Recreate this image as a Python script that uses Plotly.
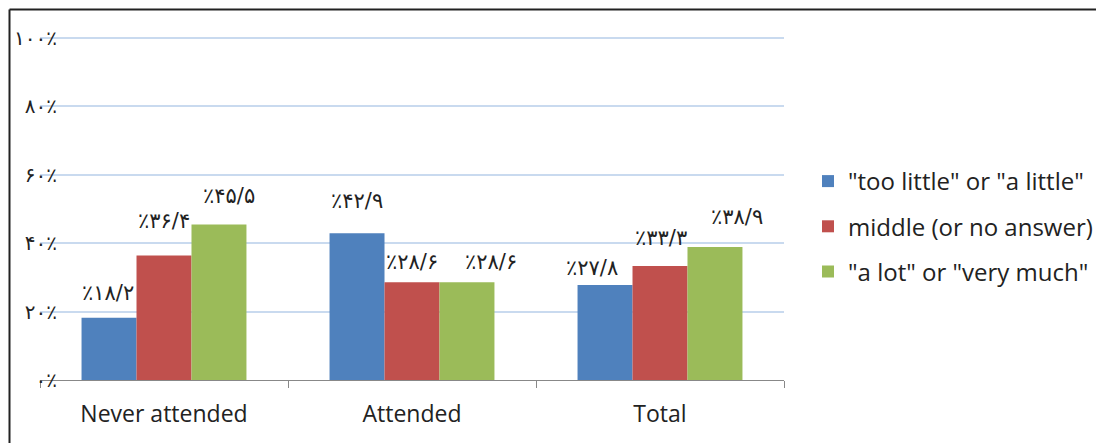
import plotly.graph_objects as go

categories = ["Never attended", "Attended", "Total"]
series_names = ['"too little" or "a little"', 'middle (or no answer)', '"a lot" or "very much"']
too_little = [18.2, 42.9, 27.8]
middle = [36.4, 28.6, 33.3]
a_lot = [45.5, 28.6, 38.9]
too_little_labels = ["٪۱۸/۲", "٪۴۲/۹", "٪۲۷/۸"]
middle_labels = ["٪۳۶/۴", "٪۲۸/۶", "٪۳۳/۳"]
a_lot_labels = ["٪۴۵/۵", "٪۲۸/۶", "٪۳۸/۹"]
y_tickvals = [0, 20, 40, 60, 80, 100]
y_ticktext = ["۰٪", "۲۰٪", "۴۰٪", "۶۰٪", "۸۰٪", "۱۰۰٪"]

# manual label nudges (px) as placed in the original chart
label_dx = [[-1, 0, -13], [0, 0, 1], [10, 24, 22]]
label_dy = [[25, 32, 17], [35, 20, 28], [28, 20, 30]]

colors = ["#4F81BD", "#C0504D", "#9BBB59"]
values = [too_little, middle, a_lot]
labels = [too_little_labels, middle_labels, a_lot_labels]

# page has an 8px body margin; figure sized to fit the window
OFF = 8
W, H = 1096, 435
ML, MR, MT, MB = 32, 320, 29, 63
bargap = 0.335

fig = go.Figure()
for i, (name, vals, col) in enumerate(zip(series_names, values, colors)):
    fig.add_trace(go.Bar(
        x=categories, y=vals, name=name, marker_color=col,
        marker_line_width=0, legendgroup=str(i),
    ))

bw = (1 - bargap) / 3
annotations = []
for i, (vals, labs) in enumerate(zip(values, labels)):
    off = (i - 1) * bw
    for j, (v, t) in enumerate(zip(vals, labs)):
        annotations.append(dict(
            x=j + off, y=v, xref="x", yref="y", text=t, showarrow=False,
            yanchor="middle", xshift=label_dx[i][j], yshift=label_dy[i][j],
            font=dict(size=21, color="#222222", family="DejaVu Sans"),
        ))

pw = W - ML - MR
ph = H - MT - MB
def px_x(p):
    return (p - OFF - ML) / pw
def px_y(p):
    return (H - MB - (p - OFF)) / ph

shapes = [
    dict(type="line", xref="paper", yref="paper", x0=px_x(9.5), x1=px_x(1110),
         y0=px_y(9.5), y1=px_y(9.5), line=dict(color="#222222", width=2)),
    dict(type="line", xref="paper", yref="paper", x0=px_x(9.5), x1=px_x(9.5),
         y0=px_y(9.5), y1=px_y(450), line=dict(color="#222222", width=2)),
]

fig.update_layout(
    width=W, height=H,
    margin=dict(l=ML, r=MR, t=MT, b=MB, autoexpand=False),
    paper_bgcolor="white", plot_bgcolor="white",
    barmode="group", bargap=bargap, bargroupgap=0,
    font=dict(family="Open Sans", color="#222222"),
    annotations=annotations, shapes=shapes,
    legend=dict(x=px_x(808), y=px_y(159), xanchor="left", yanchor="top",
                font=dict(size=24, family="Open Sans", color="#222222"),
                tracegroupgap=11, itemwidth=30),
    xaxis=dict(
        type="category", tickson="boundaries", ticks="outside", ticklen=7,
        tickcolor="#888888", showline=True, linecolor="#888888", linewidth=1,
        showgrid=False, automargin=False, ticklabelstandoff=13,
        tickfont=dict(size=23, family="Open Sans", color="#222222"),
    ),
    yaxis=dict(
        range=[0, 100.3], tickvals=y_tickvals, ticktext=y_ticktext,
        showgrid=True, gridcolor="#C9DAEF", gridwidth=1.5,
        zeroline=False, showline=False, ticks="", automargin=False,
        tickfont=dict(size=20, family="DejaVu Sans", color="#222222"),
        ticklabelstandoff=-18,
    ),
)

fig.write_html("out.html")
